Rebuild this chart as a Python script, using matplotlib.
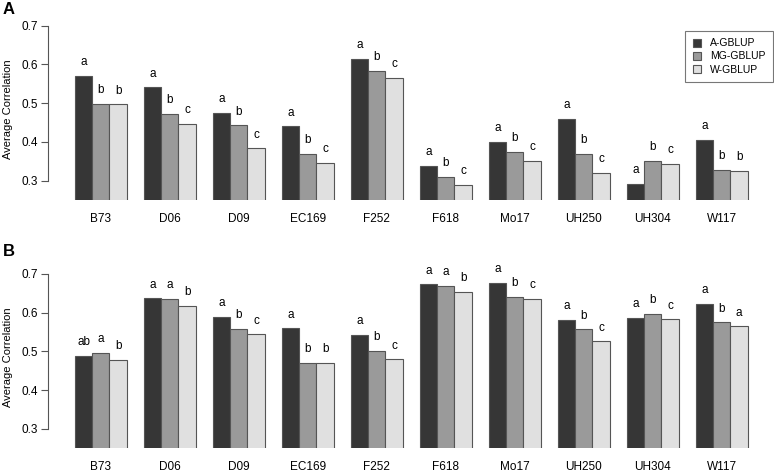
import matplotlib.pyplot as plt
import numpy as np

plt.rcParams['font.family'] = ['Liberation Sans', 'DejaVu Sans']

# lines and methods
lines = ['B73', 'D06', 'D09', 'EC169', 'F252', 'F618', 'Mo17', 'UH250', 'UH304', 'W117']
methods = ['A-GBLUP', 'MG-GBLUP', 'W-GBLUP']
colors = ['#363636', '#9a9a9a', '#e0e0e0']

# panel A values
a_agblup = [0.570, 0.541, 0.475, 0.440, 0.615, 0.339, 0.401, 0.459, 0.292, 0.406]
a_mgblup = [0.498, 0.472, 0.443, 0.369, 0.584, 0.310, 0.374, 0.369, 0.352, 0.328]
a_wgblup = [0.497, 0.446, 0.383, 0.346, 0.565, 0.289, 0.352, 0.320, 0.343, 0.326]
a_letters = [['a', 'b', 'b'], ['a', 'b', 'c'], ['a', 'b', 'c'], ['a', 'b', 'c'], ['a', 'b', 'c'],
             ['a', 'b', 'c'], ['a', 'b', 'c'], ['a', 'b', 'c'], ['a', 'b', 'c'], ['a', 'b', 'b']]

# panel B values
b_agblup = [0.489, 0.637, 0.589, 0.559, 0.542, 0.673, 0.676, 0.581, 0.586, 0.623]
b_mgblup = [0.497, 0.636, 0.558, 0.470, 0.502, 0.669, 0.640, 0.557, 0.596, 0.575]
b_wgblup = [0.479, 0.617, 0.544, 0.470, 0.480, 0.653, 0.635, 0.526, 0.583, 0.565]
b_letters = [['ab', 'a', 'b'], ['a', 'a', 'b'], ['a', 'b', 'c'], ['a', 'b', 'b'], ['a', 'b', 'c'],
             ['a', 'a', 'b'], ['a', 'b', 'c'], ['a', 'b', 'c'], ['a', 'b', 'c'], ['a', 'b', 'a']]

W, H = 774, 472
fig = plt.figure(figsize=(W / 100, H / 100), dpi=100)


def make_panel(top_px, bottom_px, series, letters, label, label_y, legend=False):
    ax = fig.add_axes([48 / W, 1 - bottom_px / H, (W - 48) / W, (bottom_px - top_px) / H])
    x = np.arange(len(lines))
    for j, vals in enumerate(series):
        pos = 1 + 4 * x + j
        ax.bar(pos, vals, width=1, align='edge', color=colors[j], edgecolor='#555555',
               linewidth=0.8, label=methods[j])
        for p, v, lt in zip(pos, vals, letters):
            ax.annotate(lt[j], (p + 0.5, v), xytext=(0, 5.5), textcoords='offset points',
                        ha='center', va='bottom', fontsize=8.5)
    ax.set_xlim(-0.56, -0.56 + (W - 48) / 17.25)
    ax.set_ylim(0.25, 0.72)
    ax.set_yticks([0.3, 0.4, 0.5, 0.6, 0.7])
    ax.set_yticklabels(['0.3', '0.4', '0.5', '0.6', '0.7'], fontsize=8.5)
    ax.set_xticks(1 + 4 * x + 1.5)
    ax.set_xticklabels(lines, fontsize=8.5)
    ax.tick_params(axis='x', length=0, pad=9)
    ax.tick_params(axis='y', length=5, width=0.8, color='#555555', pad=2)
    for s in ['top', 'right', 'bottom']:
        ax.spines[s].set_visible(False)
    ax.spines['left'].set_bounds(0.3, 0.7)
    ax.spines['left'].set_color('#555555')
    ax.spines['left'].set_linewidth(0.8)
    ax.set_ylabel('Average Correlation', fontsize=8, labelpad=6)
    ax.patch.set_visible(False)
    fig.text(3 / W, 1 - label_y / H, label, fontsize=12, fontweight='bold', va='top')
    if legend:
        lg = fig.legend(loc='upper right', bbox_to_anchor=(773 / W, 1 - 31 / H),
                        fontsize=7.5, frameon=True, fancybox=False, handlelength=0.8,
                        handleheight=0.8, handletextpad=0.9, labelspacing=0.3,
                        borderpad=0.7, borderaxespad=0)
        lg.get_frame().set_edgecolor('#555555')
        lg.get_frame().set_linewidth(0.8)
    return ax


make_panel(18, 200, [a_agblup, a_mgblup, a_wgblup], a_letters, 'A', 2, legend=True)
make_panel(266, 448.4, [b_agblup, b_mgblup, b_wgblup], b_letters, 'B', 244)

fig.savefig('out.png', dpi=100)
